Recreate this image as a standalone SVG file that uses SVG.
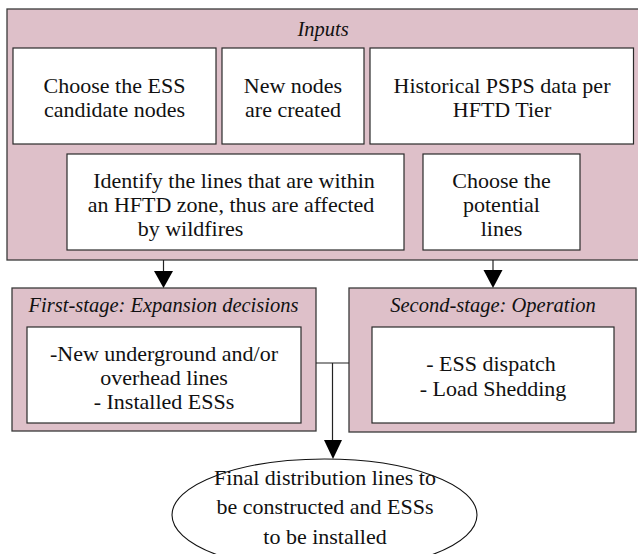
<svg xmlns="http://www.w3.org/2000/svg" width="638" height="554" viewBox="0 0 638 554">
  <defs>
    <style>
      .stage { fill: #dec0c9; stroke: #3a3a3a; stroke-width: 1.3; }
      .box { fill: #ffffff; stroke: #2a2a2a; stroke-width: 1.2; }
      text { font-family: 'Liberation Serif', 'Times New Roman', Tinos, 'DejaVu Serif', serif; fill: #111; text-anchor: middle; }
      .t { font-size: 22px; }
      .ti { font-size: 20.5px; font-style: italic; }
      .wire { fill: none; stroke: #222; stroke-width: 1.2; }
      .head { fill: #000; stroke: none; }
    </style>
  </defs>

  <rect width="638" height="554" fill="#ffffff"/>

  <!-- Inputs container -->
  <g id="inputs">
    <rect class="stage" x="7" y="9" width="640" height="251"/>
    <text class="ti" x="323" y="36" font-family="Liberation Serif, serif">Inputs</text>
  </g>

  <g id="ess-candidates" font-family="Liberation Serif, serif">
    <rect class="box" x="13" y="48" width="203" height="96"/>
    <text class="t" x="114.5" y="93">Choose the ESS</text>
    <text class="t" x="114.5" y="117">candidate nodes</text>
  </g>

  <g id="new-nodes">
    <rect class="box" x="222" y="48" width="142" height="96"/>
    <text class="t" x="293" y="93">New nodes</text>
    <text class="t" x="293" y="117">are created</text>
  </g>

  <g id="psps-data">
    <rect class="box" x="370" y="48" width="263.5" height="96"/>
    <text class="t" x="502" y="93">Historical PSPS data per</text>
    <text class="t" x="502" y="117">HFTD Tier</text>
  </g>

  <g id="hftd-lines">
    <rect class="box" x="67" y="154" width="337" height="96"/>
    <text class="t" x="234" y="188">Identify the lines that are within</text>
    <text class="t" x="231" y="212">an HFTD zone, thus are affected</text>
    <text class="t" x="190.5" y="236">by wildfires</text>
  </g>

  <g id="potential-lines">
    <rect class="box" x="423" y="154" width="157" height="96"/>
    <text class="t" x="501.5" y="188">Choose the</text>
    <text class="t" x="501.5" y="212">potential</text>
    <text class="t" x="501.5" y="236">lines</text>
  </g>

  <!-- First stage -->
  <g id="first-stage">
    <rect class="stage" x="12" y="288" width="304" height="143"/>
    <text class="ti" x="163.5" y="312">First-stage: Expansion decisions</text>
    <rect class="box" x="27" y="327" width="274" height="96"/>
    <text class="t" x="164" y="361">-New underground and/or</text>
    <text class="t" x="164" y="385">overhead lines</text>
    <text class="t" x="164" y="409">- Installed ESSs</text>
  </g>

  <!-- Second stage -->
  <g id="second-stage">
    <rect class="stage" x="349" y="288" width="287" height="144"/>
    <text class="ti" x="493" y="312">Second-stage: Operation</text>
    <rect class="box" x="372" y="327" width="242" height="96"/>
    <text class="t" x="491" y="371">- ESS dispatch</text>
    <text class="t" x="493" y="396">- Load Shedding</text>
  </g>

  <!-- Final result -->
  <g id="final">
    <ellipse cx="324.5" cy="515" rx="152.5" ry="56" fill="#ffffff" stroke="#111" stroke-width="1.1"/>
    <text class="t" x="325" y="485">Final distribution lines to</text>
    <text class="t" x="325" y="514">be constructed and ESSs</text>
    <text class="t" x="325" y="544">to be installed</text>
  </g>

  <!-- Connectors -->
  <g id="connectors">
    <line class="wire" x1="163.5" y1="260" x2="163.5" y2="272"/>
    <polygon class="head" points="154,271 173,271 163.5,288"/>
    <line class="wire" x1="493" y1="260" x2="493" y2="271"/>
    <polygon class="head" points="483.5,270 502.5,270 493,288"/>
    <polyline class="wire" points="316,363 349,363"/>
    <line class="wire" x1="332.5" y1="363" x2="332.5" y2="441"/>
    <polygon class="head" points="324,440 342,440 333,459"/>
  </g>
</svg>
